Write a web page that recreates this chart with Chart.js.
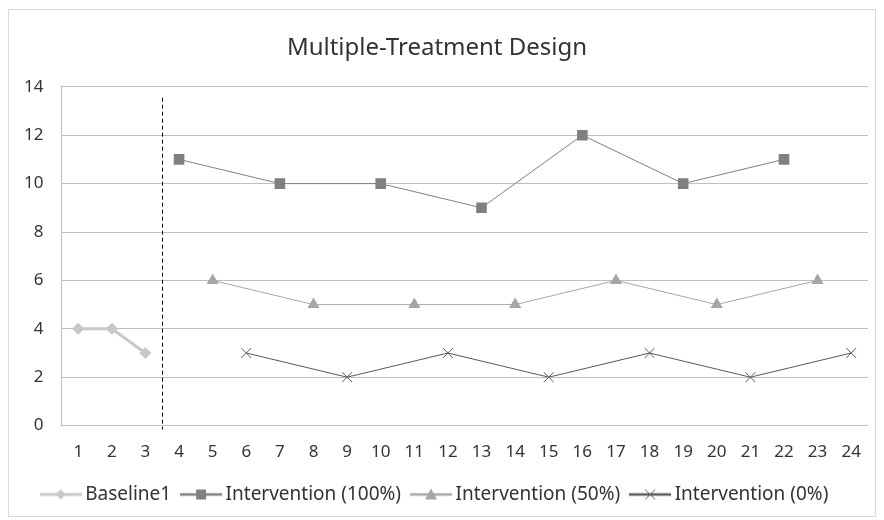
<!DOCTYPE html>
<html>
<head>
<meta charset="utf-8">
<script src="https://cdn.jsdelivr.net/npm/chart.js@4/dist/chart.umd.min.js"></script>
<style>
  html, body { margin: 0; padding: 0; background: #fff; }
  #wrap { position: relative; width: 884px; height: 520px; }
  #frame { position: absolute; left: 8px; top: 9px; width: 868px; height: 508px; border: 1px solid #d9d9d9; box-sizing: border-box; }
  canvas { position: absolute; left: 0; top: 0; }
</style>
</head>
<body>
<div id="wrap">
  <div id="frame"></div>
  <canvas id="myChart" width="884" height="520"></canvas>
</div>
<script>
const sessions = ['1','2','3','4','5','6','7','8','9','10','11','12','13','14','15','16','17','18','19','20','21','22','23','24']
const baseline = [4, 4, 3, null, null, null, null, null, null, null, null, null, null, null, null, null, null, null, null, null, null, null, null, null]
const treat100 = [null, null, null, 11, null, null, 10, null, null, 10, null, null, 9, null, null, 12, null, null, 10, null, null, 11, null, null]
const treat50 = [null, null, null, null, 6, null, null, 5, null, null, 5, null, null, 5, null, null, 6, null, null, 5, null, null, 6, null]
const treat0 = [null, null, null, null, null, 3, null, null, 2, null, null, 3, null, null, 2, null, null, 3, null, null, 2, null, null, 3]
const yTicks = [0, 2, 4, 6, 8, 10, 12, 14]

const fontFam = "'Noto Sans', 'Open Sans', sans-serif"

// legend icons: line with marker in the middle, like excel
function legendIcon(color, lineW, drawMarker){
  const c = document.createElement('canvas')
  c.width = 42; c.height = 14
  const ctx = c.getContext('2d')
  ctx.strokeStyle = color
  ctx.lineWidth = lineW
  ctx.beginPath(); ctx.moveTo(0, 7); ctx.lineTo(42, 7); ctx.stroke()
  drawMarker(ctx)
  return c
}
const iconBase = legendIcon('#c8c8c8', 3, function(ctx){
  ctx.fillStyle = '#c8c8c8'
  ctx.beginPath(); ctx.moveTo(21, 2); ctx.lineTo(26, 7); ctx.lineTo(21, 12); ctx.lineTo(16, 7); ctx.closePath(); ctx.fill()
})
const icon100 = legendIcon('#7f7f7f', 2.5, function(ctx){
  ctx.fillStyle = '#808080'
  ctx.fillRect(16, 2, 10, 10)
})
const icon50 = legendIcon('#a6a6a6', 2.5, function(ctx){
  ctx.fillStyle = '#a6a6a6'
  ctx.beginPath(); ctx.moveTo(21, 1); ctx.lineTo(27, 12); ctx.lineTo(15, 12); ctx.closePath(); ctx.fill()
})
const icon0 = legendIcon('#595959', 2.5, function(ctx){
  ctx.strokeStyle = '#595959'; ctx.lineWidth = 1
  ctx.beginPath(); ctx.moveTo(16, 2); ctx.lineTo(26, 12); ctx.moveTo(26, 2); ctx.lineTo(16, 12); ctx.stroke()
})
const icons = [iconBase, icon100, icon50, icon0]

const phaseLine = {
  id: 'phaseLine',
  afterDatasetsDraw(chart){
    const x = chart.scales.x, y = chart.scales.y
    const px = (x.getPixelForValue(2) + x.getPixelForValue(3)) / 2
    const ctx = chart.ctx
    ctx.save()
    ctx.strokeStyle = '#000'
    ctx.lineWidth = 1
    ctx.setLineDash([4, 3])
    ctx.beginPath()
    ctx.moveTo(Math.round(px) + 0.5, y.getPixelForValue(13.55))
    ctx.lineTo(Math.round(px) + 0.5, y.getPixelForValue(0) + 4)
    ctx.stroke()
    ctx.restore()
  }
}

new Chart('myChart', {
  type: 'line',
  data: {
    labels: sessions,
    datasets: [
      { label: 'Baseline1', data: baseline, borderColor: '#c8c8c8', backgroundColor: '#c8c8c8', borderWidth: 3, pointStyle: 'rectRot', pointRadius: 6, pointBorderWidth: 0, spanGaps: true },
      { label: 'Intervention (100%)', data: treat100, borderColor: '#7f7f7f', backgroundColor: '#808080', borderWidth: 1, pointStyle: 'rect', pointRadius: 7.5, pointBorderWidth: 0, spanGaps: true },
      { label: 'Intervention (50%)', data: treat50, borderColor: '#a6a6a6', backgroundColor: '#a6a6a6', borderWidth: 1, pointStyle: 'triangle', pointRadius: 7, pointBorderWidth: 0, spanGaps: true },
      { label: 'Intervention (0%)', data: treat0, borderColor: '#595959', backgroundColor: '#595959', borderWidth: 1, pointStyle: 'crossRot', pointRadius: 7, pointBorderWidth: 1, spanGaps: true }
    ]
  },
  options: {
    responsive: false,
    animation: false,
    layout: { padding: { left: 6, right: 16, top: 34, bottom: 6 } },
    plugins: {
      title: { display: true, text: 'Multiple-Treatment Design', color: '#333', font: { family: fontFam, size: 24, weight: 'normal' }, padding: { top: 0, bottom: 24 } },
      legend: {
        position: 'bottom',
        labels: {
          usePointStyle: true,
          pointStyleWidth: 30,
          padding: 15,
          color: '#333',
          font: { family: fontFam, size: 19 },
          generateLabels(chart){
            return chart.data.datasets.map(function(ds, i){
              return { text: ds.label, pointStyle: icons[i], fillStyle: ds.backgroundColor, strokeStyle: ds.borderColor, lineWidth: 0, datasetIndex: i, hidden: false, fontColor: '#333' }
            })
          }
        }
      },
      tooltip: { enabled: false }
    },
    scales: {
      x: {
        offset: true,
        grid: { display: false },
        border: { display: false },
        ticks: { color: '#333', font: { family: fontFam, size: 17 }, maxRotation: 0, autoSkip: false, padding: 8 }
      },
      y: {
        min: 0, max: 14,
        afterBuildTicks(axis){ axis.ticks = yTicks.map(v => ({ value: v })) },
        grid: { color: '#bfbfbf', drawTicks: false },
        border: { display: true, color: '#bfbfbf' },
        ticks: { color: '#333', font: { family: fontFam, size: 17 }, padding: 18 }
      }
    }
  },
  plugins: [phaseLine]
})
</script>
</body>
</html>
